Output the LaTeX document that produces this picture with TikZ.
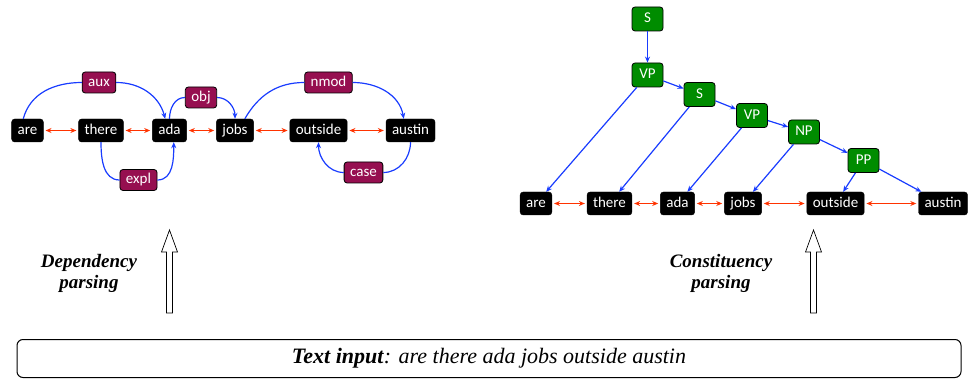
\documentclass[tikz,border=0pt]{standalone}
\usepackage{fontspec}
\setmainfont{Liberation Serif}
\newfontfamily\boxfont{Carlito}
\usepackage{tikz}
\usetikzlibrary{arrows,arrows.meta,positioning,calc}
\definecolor{seqred}{RGB}{255,51,0}
\definecolor{arcblue}{RGB}{25,60,255}
\definecolor{relpurple}{RGB}{150,15,80}
\definecolor{consgreen}{RGB}{0,140,0}
\tikzstyle{word}=[draw=black,fill=black,text=white,rounded corners=3pt,inner xsep=6pt,inner ysep=0pt,text height=11pt,text depth=3pt,minimum height=23pt,font=\boxfont\fontsize{15}{18}\selectfont]
\tikzstyle{rel}=[word,fill=relpurple,minimum height=21pt,line width=0.8pt]
\tikzstyle{cons}=[word,fill=consgreen,minimum width=31pt,minimum height=24pt,line width=0.8pt]
\tikzstyle{deparc}=[arcblue,line width=1.2pt,-{Stealth[length=6pt,width=5pt]}]
\tikzstyle{seqarrow}=[seqred,line width=1.2pt,{Stealth[length=6pt,width=5pt]}-{Stealth[length=6pt,width=5pt]},shorten >=2pt,shorten <=2pt]
\tikzstyle{caption}=[align=center,font=\bfseries\itshape\fontsize{19}{21}\selectfont]

\begin{document}
\begin{tikzpicture}[x=1pt,y=-1pt]
\useasboundingbox (0,0) rectangle (968,379);
% dependency parse
\node [word] (dare) at (27.5,130.5) {are};
\node [word] (dthere) at (101,130.5) {there};
\node [word] (dada) at (169.5,130.5) {ada};
\node [word] (djobs) at (235,130.5) {jobs};
\node [word] (doutside) at (318.5,130.5) {outside};
\node [word] (daustin) at (410.5,130.5) {austin};
\node [rel] (aux) at (99,82.5) {aux};
\node [rel] (obj) at (201,97.5) {obj};
\node [rel] (nmod) at (328.5,82.5) {nmod};
\node [rel] (expl) at (138.5,180) {expl};
\node [rel] (case) at (363.5,172.5) {case};
\draw [seqarrow] (dare) -- (dthere);
\draw [seqarrow] (dthere) -- (dada);
\draw [seqarrow] (dada) -- (djobs);
\draw [seqarrow] (djobs) -- (doutside);
\draw [seqarrow] (doutside) -- (daustin);
\draw [deparc,-] (dare.110) to[out=75,in=180] (aux.west);
\draw [deparc] (aux.east) to[out=0,in=105] (dada.110);
\draw [deparc,-] (dada.north) to[out=90,in=180] (obj.west);
\draw [deparc] (obj.east) to[out=0,in=90] (djobs.north);
\draw [deparc,-] (djobs.50) to[out=60,in=180] (nmod.west);
\draw [deparc] (nmod.east) to[out=0,in=100] (daustin.120);
\draw [deparc,-] (dthere.south) to[out=-90,in=180] (expl.west);
\draw [deparc] (expl.east) to[out=0,in=-90] (dada.-70);
\draw [deparc,-] (daustin.south) to[out=-90,in=0] (case.east);
\draw [deparc] (case.west) to[out=180,in=-90] (doutside.south);
% constituency parse
\node [cons] (s1) at (647.5,19) {S};
\node [cons] (vp1) at (647.5,75) {VP};
\node [cons] (s2) at (699.5,94.5) {S};
\node [cons] (vp2) at (752,115.5) {VP};
\node [cons] (np) at (804,132) {NP};
\node [cons] (pp) at (863.5,160.5) {PP};
\node [word] (care) at (536,203.5) {are};
\node [word] (cthere) at (609.5,203.5) {there};
\node [word] (cada) at (677.5,203.5) {ada};
\node [word] (cjobs) at (743,203.5) {jobs};
\node [word] (coutside) at (835.5,203.5) {outside};
\node [word] (caustin) at (943,203.5) {austin};
\draw [seqarrow] (care) -- (cthere);
\draw [seqarrow] (cthere) -- (cada);
\draw [seqarrow] (cada) -- (cjobs);
\draw [seqarrow] (cjobs) -- (coutside);
\draw [seqarrow] (coutside) -- (caustin);
\draw [deparc] (s1) -- (vp1);
\draw [deparc] (vp1) -- (s2);
\draw [deparc] (s2) -- (vp2);
\draw [deparc] (vp2) -- (np);
\draw [deparc] (np) -- (pp);
\draw [deparc] (vp1) -- (care);
\draw [deparc] (s2) -- (cthere);
\draw [deparc] (vp2) -- (cada);
\draw [deparc] (np) -- (cjobs);
\draw [deparc] (pp) -- (coutside);
\draw [deparc] (pp) -- (caustin);
% input and hollow arrows
\node [caption] (deplabel) at (89,273) {Dependency\\parsing};
\node [caption] (conlabel) at (721,273) {Constituency\\parsing};
\draw [line width=0.7pt] (166.5,313) -- (166.5,252) -- (161.5,252) -- (169.5,230) -- (177.5,252) -- (172.5,252) -- (172.5,313) -- cycle;
\draw [line width=0.7pt] (810.5,313) -- (810.5,252) -- (805.5,252) -- (813.5,230) -- (821.5,252) -- (816.5,252) -- (816.5,313) -- cycle;
\node [draw,rounded corners=6pt,line width=1pt,minimum width=944pt,minimum height=38pt,font=\fontsize{22}{24}\selectfont] (input) at (489,358.5) {\textbf{\textit{Text input}}\textit{: are there ada jobs outside austin}};
\end{tikzpicture}
\end{document}
